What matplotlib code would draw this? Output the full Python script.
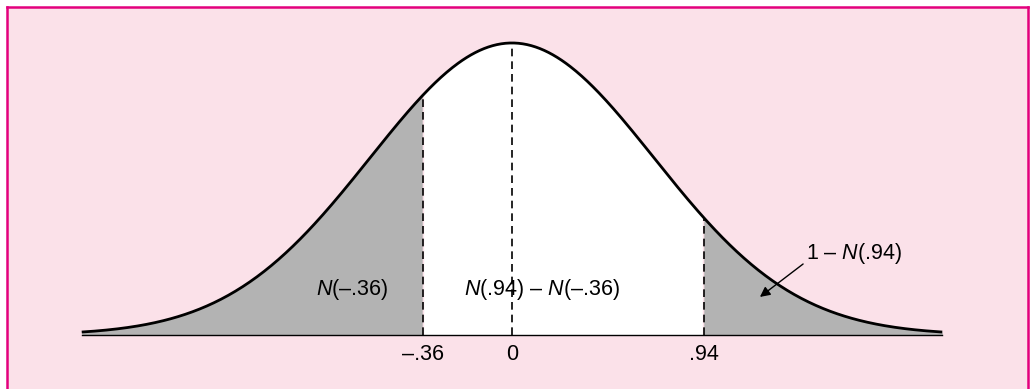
import numpy as np
import matplotlib
matplotlib.use("Agg")
import matplotlib.pyplot as plt
from matplotlib.patches import Rectangle
from matplotlib.lines import Line2D

plt.rcParams['font.family'] = ['Liberation Sans', 'DejaVu Sans']
plt.rcParams['mathtext.fontset'] = 'custom'
plt.rcParams['mathtext.it'] = 'Liberation Sans:italic'
plt.rcParams['mathtext.rm'] = 'Liberation Sans'

# drawn positions of the cut-offs (diagram is schematic, not to scale)
cut_pos = [-0.63, 1.35]
cut_labels = ["\u2013.36", ".94"]
zero_label = "0"
area_labels = ["$N$(\u2013.36)", "$N$(.94) \u2013 $N$(\u2013.36)", "1 \u2013 $N$(.94)"]

z = np.linspace(-3.03, 3.03, 600)
pdf = np.exp(-z**2 / 2) / np.sqrt(2 * np.pi)

pink = "#fbe1e9"
border = "#e3007d"
grey = "#b3b3b3"

fig = plt.figure(figsize=(10.3, 3.89), dpi=100)
fig.patch.set_facecolor("white")
fig.patches.append(Rectangle((7/1030, 0), 1021/1030, 382/389, transform=fig.transFigure,
                             facecolor=pink, edgecolor="none", zorder=0))
for xs, ys in [([7/1030, 7/1030], [0, 382/389]),
               ([7/1030, 1028/1030], [382/389, 382/389]),
               ([1028/1030, 1028/1030], [0, 382/389])]:
    fig.lines.append(Line2D(xs, ys, transform=fig.transFigure, color=border, lw=1.8, zorder=1))

ax = fig.add_axes([0, 0, 1, 1])
ax.set_zorder(5)
ax.set_facecolor("none")
ax.patch.set_alpha(0)
ax.set_xlim(-512/142, 518/142)
ax.set_ylim(-54/732, 335/732)
ax.axis("off")

lo, hi = cut_pos
ax.fill_between(z, 0, pdf, where=z <= lo, color=grey, lw=0)
ax.fill_between(z, 0, pdf, where=(z >= lo) & (z <= hi), color="white", lw=0)
ax.fill_between(z, 0, pdf, where=z >= hi, color=grey, lw=0)
ax.plot(z, pdf, color="black", lw=2.0, solid_capstyle="butt")
ax.plot([z[0], z[-1]], [0, 0], color="black", lw=1.0)

def npdf(v):
    return np.exp(-v**2 / 2) / np.sqrt(2 * np.pi)

for p in cut_pos + [0]:
    ax.plot([p, p], [0, npdf(p)], color="black", lw=1.2, dashes=(4.6, 3.0))

for p, lab in zip(cut_pos, cut_labels):
    ax.text(p, -0.027, lab, ha="center", va="center", fontsize=15.5)
ax.text(0, -0.027, zero_label, ha="center", va="center", fontsize=15.5)

ax.text(-1.127, 0.0615, area_labels[0], ha="center", va="center", fontsize=15.5)
ax.text(0.208, 0.0615, area_labels[1], ha="center", va="center", fontsize=15.5)
ax.text(2.746, 0.112, area_labels[2], ha="right", va="center", fontsize=15.5)
ax.annotate("", xy=(1.746, 0.052), xytext=(2.05, 0.097),
            arrowprops=dict(arrowstyle="-|>", color="black", lw=1.0,
                            mutation_scale=15, shrinkA=0, shrinkB=0))

fig.savefig("out.png", dpi=100, facecolor=fig.get_facecolor())
